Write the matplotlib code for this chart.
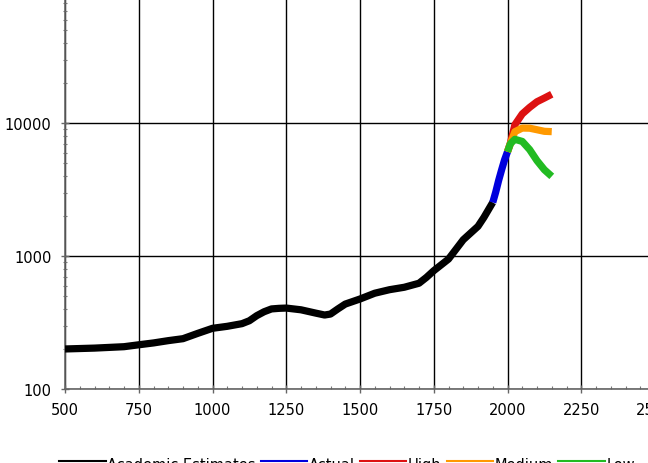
import matplotlib
matplotlib.use("Agg")
import matplotlib.pyplot as plt
from matplotlib.ticker import MultipleLocator, LogLocator, FixedLocator, NullFormatter
from matplotlib.legend_handler import HandlerLine2D

# ---- data (millions) ----
acad_years = [500, 600, 700, 750, 800, 850, 900, 950, 1000, 1050, 1100, 1125, 1150, 1175, 1200,
              1225, 1250, 1300, 1350, 1380, 1400, 1425, 1450, 1500, 1550, 1600, 1650, 1700, 1725,
              1750, 1800, 1850, 1900, 1920, 1950]
acad_vals = [200, 203, 208, 215, 222, 231, 239, 262, 286, 296, 310, 326, 356, 381, 400,
             404, 406, 394, 372, 360, 366, 400, 435, 475, 525, 558, 582, 624, 690,
             775, 948, 1325, 1671, 1950, 2530]

actual_years = [1950, 1960, 1970, 1980, 1990, 2000]
actual_vals = [2525, 3020, 3700, 4440, 5280, 6080]

proj_years = [2000, 2010, 2025, 2050, 2075, 2100, 2125, 2150]
high_vals = [6080, 7100, 9700, 11700, 13100, 14450, 15400, 16450]
medium_vals = [6080, 7000, 8600, 9160, 9140, 8900, 8660, 8610]
low_vals = [6080, 7000, 7540, 7270, 6310, 5210, 4450, 3970]

x_ticks = [500, 750, 1000, 1250, 1500, 1750, 2000, 2250, 2500]
y_ticks = [100, 1000, 10000, 100000]
y_tick_labels = ["100", "1000", "10000", ""]

labels = ["Academic Estimates", "Actual", "High", "Medium", "Low"]
colors = ["#000000", "#0000dd", "#dd1111", "#ff9900", "#22bb22"]

W, H = 648, 464
fig = plt.figure(figsize=(W / 100, H / 100), dpi=100)
ax = fig.add_axes([65 / W, (H - 390) / H, 590 / W, 399 / H])

lw = 5.2
series = [(acad_years, acad_vals), (actual_years, actual_vals), (proj_years, high_vals),
          (proj_years, medium_vals), (proj_years, low_vals)]
for (xs, ys), c, lab in zip(series, colors, labels):
    ax.plot(xs, ys, color=c, lw=lw, solid_capstyle="butt", solid_joinstyle="round", zorder=3)

ax.set_yscale("log")
ax.set_xlim(500, 2500)
ax.set_ylim(100, 100000)
ax.xaxis.set_major_locator(FixedLocator(x_ticks))
ax.xaxis.set_minor_locator(MultipleLocator(50))
ax.yaxis.set_major_locator(FixedLocator(y_ticks))
ax.yaxis.set_minor_locator(LogLocator(base=10, subs=range(2, 10)))
ax.yaxis.set_minor_formatter(NullFormatter())
ax.set_yticklabels(y_tick_labels)
ax.set_xticklabels([str(v) for v in x_ticks])

ax.grid(True, which="major", color="black", lw=1.0)
for s in ["top", "right"]:
    ax.spines[s].set_visible(False)
for s in ["left", "bottom"]:
    ax.spines[s].set_color("#666666")
    ax.spines[s].set_linewidth(1.2)

ax.tick_params(which="major", direction="inout", length=6, width=1.0, color="#666666",
               labelsize=10.5, pad=6.6)
ax.tick_params(axis="y", which="minor", direction="inout", length=3.5, width=0.8, color="#777777")
ax.tick_params(axis="x", which="minor", direction="in", length=2, width=0.8, color="#777777")


class RaisedLineHandler(HandlerLine2D):
    """Legend line drawn a little above the text's mid-height."""
    def create_artists(self, legend, orig_handle, xdescent, ydescent, width, height,
                       fontsize, trans):
        return super().create_artists(legend, orig_handle, xdescent, ydescent, width,
                                      height + 4.0, fontsize, trans)


handles = [plt.Line2D([], [], color=c, lw=1.5) for c in colors]
hmap = {h: RaisedLineHandler() for h in handles}
fig.legend(handles, labels, loc="center", bbox_to_anchor=(347 / W, 1 - 465.5 / H), ncol=5,
           frameon=False, fontsize=10.5, handlelength=3.2, handletextpad=0.1,
           columnspacing=0.35, borderaxespad=0, borderpad=0, handler_map=hmap)

fig.savefig("out.png", dpi=100)
